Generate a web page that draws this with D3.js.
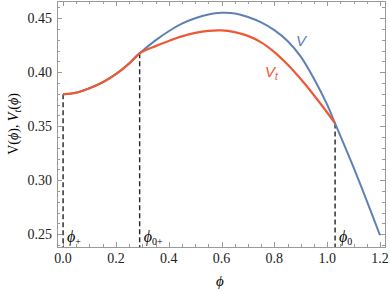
<!DOCTYPE html>
<html>
<head>
<meta charset="utf-8">
<script src="https://cdn.jsdelivr.net/npm/d3@7"></script>
<style>
  body { margin: 0; background: #fff; }
  svg { display: block; }
</style>
</head>
<body>
<svg id="chart"></svg>
<script>
// values
var phi = [0, 0.05, 0.1, 0.15, 0.2, 0.25, 0.29, 0.35, 0.4, 0.45, 0.5, 0.55, 0.6, 0.65,
           0.7, 0.75, 0.8, 0.85, 0.9, 0.95, 1.0, 1.03, 1.05, 1.1, 1.15, 1.2]
var V = [0.3795, 0.3811, 0.3852, 0.3907, 0.3982, 0.4080, 0.4175, 0.4295, 0.4380, 0.4450,
         0.4500, 0.4535, 0.4550, 0.4545, 0.4512, 0.4462, 0.4390, 0.4290, 0.4145, 0.3940,
         0.3700, 0.3526, 0.3411, 0.3118, 0.2808, 0.2490]
var Vt = [0.3795, 0.3811, 0.3852, 0.3907, 0.3982, 0.4080, 0.4175, 0.4242, 0.4290, 0.4332,
          0.4364, 0.4384, 0.4388, 0.4372, 0.4337, 0.4277, 0.4187, 0.4072, 0.3937, 0.3787,
          0.3627, 0.3526]
var marks = [{x: 0, name: "+"}, {x: 0.29, name: "0+"}, {x: 1.03, name: "0"}]
var xTicks = [0, 0.2, 0.4, 0.6, 0.8, 1.0, 1.2]
var yTicks = [0.25, 0.30, 0.35, 0.40, 0.45]

var width = 390, height = 294
var margin = {top: 1, right: 5, bottom: 47, left: 57}
var blue = "#5E81B5", red = "#EB5A35"

var svg = d3.select("#chart")
    .attr("width", width)
    .attr("height", height)

var x = d3.scaleLinear().domain([-0.023, 1.219]).range([margin.left, width - margin.right])
var y = d3.scaleLinear().domain([0.2381, 0.466]).range([height - margin.bottom, margin.top])

var serif = "'Liberation Serif', 'Times New Roman', serif"
var sans = "'Liberation Sans', Arial, sans-serif"

// frame
svg.append("rect")
    .attr("x", margin.left + 0.5).attr("y", margin.top + 0.5)
    .attr("width", width - margin.left - margin.right)
    .attr("height", height - margin.top - margin.bottom)
    .style("fill", "none").style("stroke", "#9a9a9a").style("stroke-width", 1)

// ticks on all four sides, pointing in
var xMinor = d3.range(0, 1.2001, 0.05)
var yMinor = d3.range(0.24, 0.4601, 0.01)
var x0 = margin.left, x1 = width - margin.right, y0 = height - margin.bottom, y1 = margin.top
var tg = svg.append("g").style("stroke", "#9a9a9a").style("stroke-width", 1)

xMinor.forEach(function (v) {
    var major = xTicks.some(t => Math.abs(t - v) < 1e-6)
    var len = major ? 5 : 3, px = Math.round(x(v)) + 0.5
    tg.append("line").attr("x1", px).attr("x2", px).attr("y1", y0).attr("y2", y0 - len)
    tg.append("line").attr("x1", px).attr("x2", px).attr("y1", y1).attr("y2", y1 + len)
})
yMinor.forEach(function (v) {
    var major = yTicks.some(t => Math.abs(t - v) < 1e-6)
    var len = major ? 5 : 3, py = Math.round(y(v)) + 0.5
    tg.append("line").attr("x1", x0).attr("x2", x0 + len).attr("y1", py).attr("y2", py)
    tg.append("line").attr("x1", x1).attr("x2", x1 - len).attr("y1", py).attr("y2", py)
})

// tick labels
svg.append("g").selectAll("text")
    .data(xTicks)
    .enter().append("text")
    .attr("x", d => x(d))
    .attr("y", 263)
    .attr("text-anchor", "middle")
    .style("font-family", serif).style("font-size", "14px").style("fill", "#222")
    .text(d3.format(".1f"))

svg.append("g").selectAll("text")
    .data(yTicks)
    .enter().append("text")
    .attr("x", 52)
    .attr("y", d => y(d) + 4.5)
    .attr("text-anchor", "end")
    .style("font-family", serif).style("font-size", "14px").style("fill", "#222")
    .text(d3.format(".2f"))

// axis labels
svg.append("text")
    .attr("x", 220).attr("y", 286)
    .attr("text-anchor", "middle")
    .style("font-family", serif).style("font-style", "italic").style("font-size", "15px")
    .text("ϕ")

var yl = svg.append("text")
    .attr("transform", "translate(18,124) rotate(-90)")
    .attr("text-anchor", "middle")
    .style("font-family", serif).style("font-size", "14px")
yl.append("tspan").text("V(")
yl.append("tspan").style("font-style", "italic").text("ϕ")
yl.append("tspan").text("),  ")
yl.append("tspan").style("font-style", "italic").text("V")
yl.append("tspan").style("font-style", "italic").style("font-size", "10px").attr("dy", 3).text("t")
yl.append("tspan").attr("dy", -3).text("(")
yl.append("tspan").style("font-style", "italic").text("ϕ")
yl.append("tspan").text(")")

// dashed verticals down from the touching points
var vAt = d3.scaleLinear().domain(phi.slice(0, Vt.length)).range(Vt)
svg.append("g").selectAll("line")
    .data(marks)
    .enter().append("line")
    .attr("x1", d => x(d.x)).attr("x2", d => x(d.x))
    .attr("y1", d => y(vAt(d.x))).attr("y2", y0)
    .style("stroke", "#222").style("stroke-width", 1.4)
    .style("stroke-dasharray", "5,3")

var ml = svg.append("g").selectAll("text")
    .data(marks)
    .enter().append("text")
    .attr("x", d => x(d.x) + 4)
    .attr("y", 242)
    .style("font-family", serif).style("font-style", "italic").style("font-size", "16px")
ml.append("tspan").text("ϕ")
ml.append("tspan").attr("dy", 3).style("font-style", "normal").style("font-size", "10px").text(d => d.name)

// curves
var line = d3.line()
    .x(d => x(d[0]))
    .y(d => y(d[1]))
    .curve(d3.curveCatmullRom.alpha(0.5))

svg.append("path")
    .datum(phi.map((p, i) => [p, V[i]]))
    .attr("d", line)
    .style("fill", "none").style("stroke", blue).style("stroke-width", 2)

svg.append("path")
    .datum(Vt.map((v, i) => [phi[i], v]))
    .attr("d", line)
    .style("fill", "none").style("stroke", red).style("stroke-width", 2.2)

// curve labels
svg.append("text")
    .attr("x", 296).attr("y", 46)
    .style("font-family", sans).style("font-style", "italic")
    .style("font-size", "15px").style("fill", blue)
    .text("V")

var vtl = svg.append("text")
    .attr("x", 265).attr("y", 77)
    .style("font-family", sans).style("font-style", "italic")
    .style("font-size", "15px").style("fill", red)
vtl.append("tspan").text("V")
vtl.append("tspan").attr("dy", 3).style("font-size", "10px").text("t")
</script>
</body>
</html>
